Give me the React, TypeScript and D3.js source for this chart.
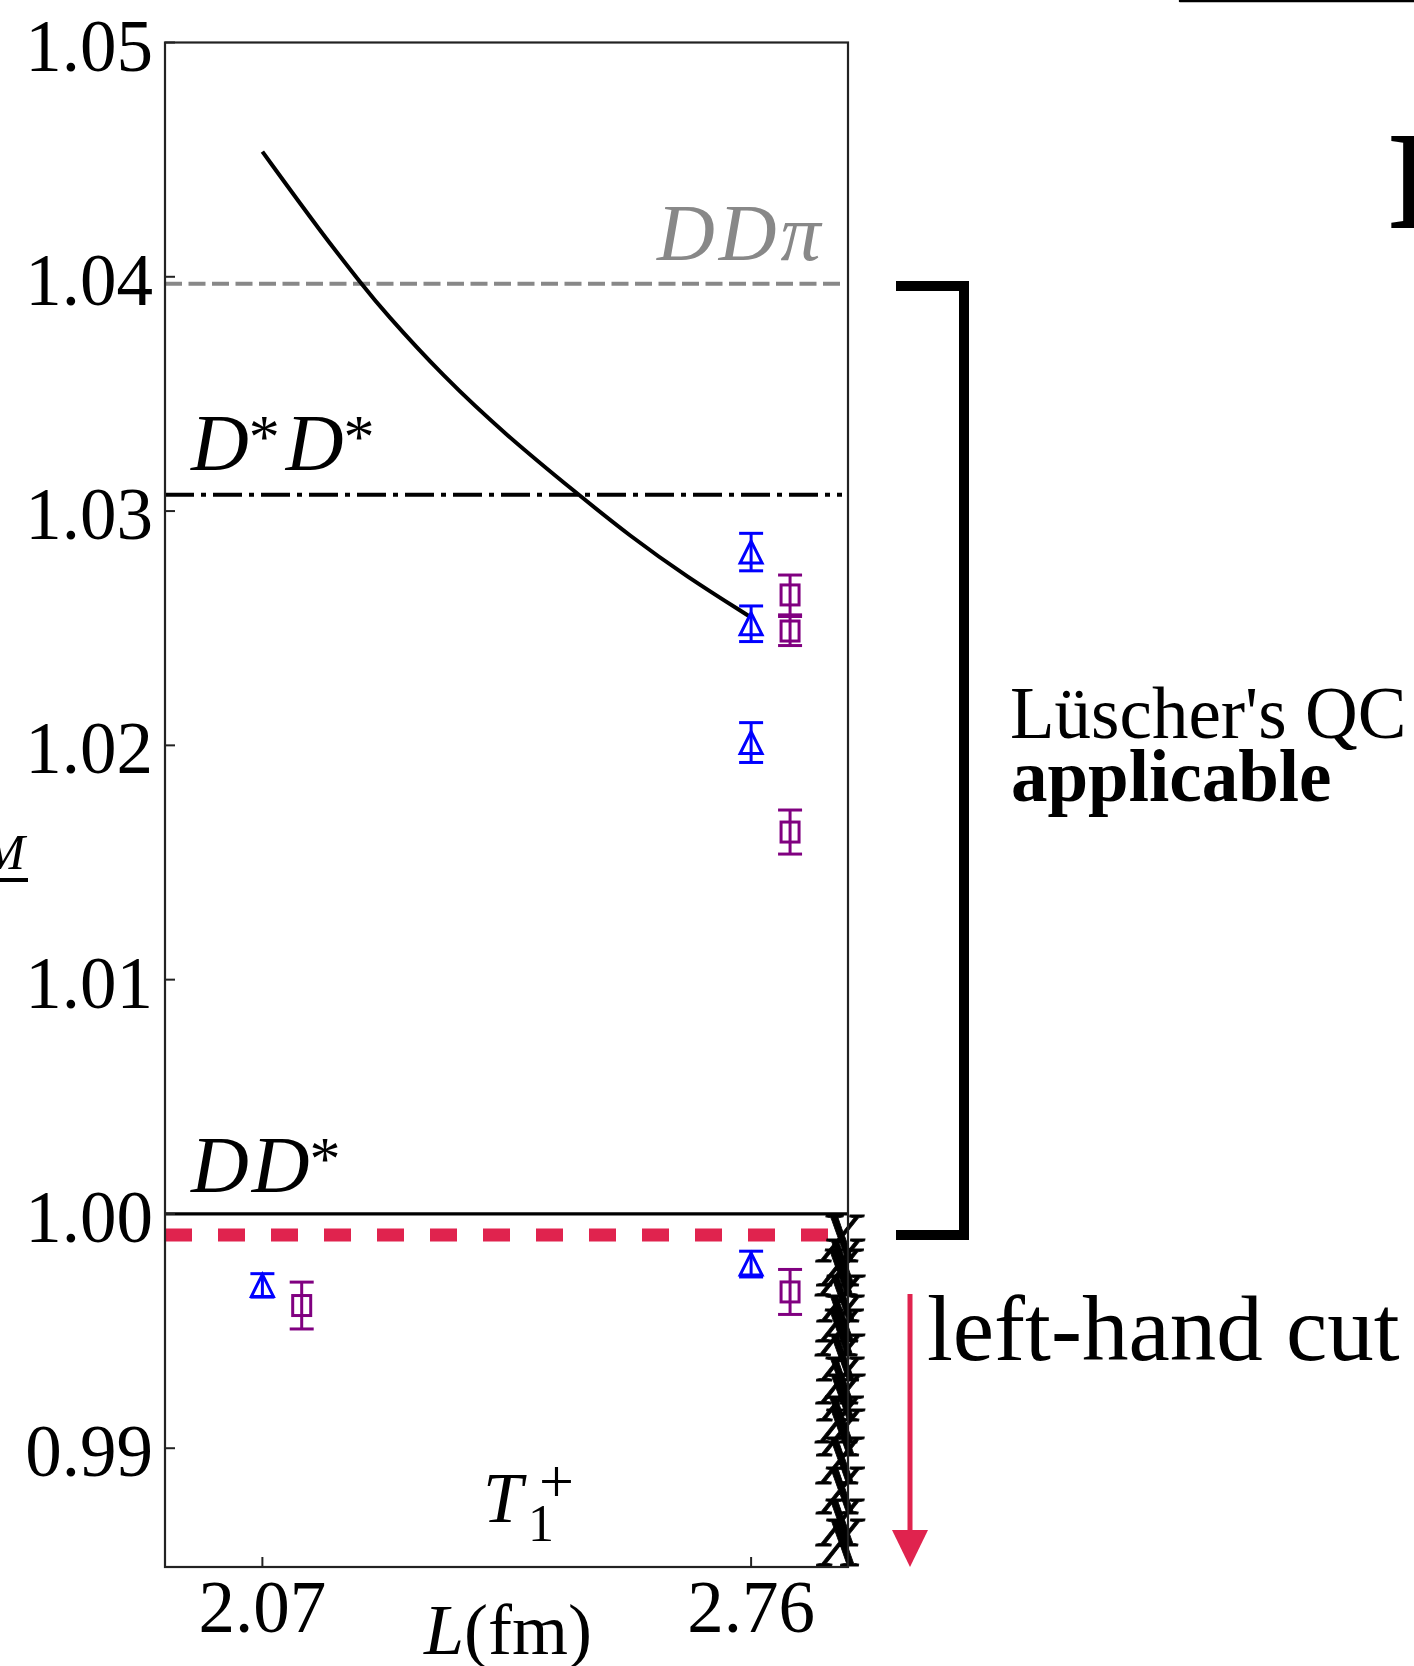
import React from 'react';
import * as d3 from 'd3';

// Axis ticks
const yTicks = [0.99, 1.0, 1.01, 1.02, 1.03, 1.04, 1.05];
const yTickLabels = ['0.99', '1.00', '1.01', '1.02', '1.03', '1.04', '1.05'];
const xTicks = [2.07, 2.76];
const xTickLabels = ['2.07', '2.76'];

// Thresholds (in units of the DD* threshold)
const thresholdDDpi = 1.0397;
const thresholdDstarDstar = 1.0307;
const thresholdDDstar = 1.0;
const leftHandCut = 0.9991;

// Non-interacting D*D* level with finite-volume shift
const curveL = [2.07, 2.1537, 2.2125, 2.2407, 2.3254, 2.4149, 2.5138, 2.589, 2.669, 2.7584];
const curveE = [1.04534, 1.04186, 1.0396, 1.03855, 1.03574, 1.03322, 1.03076, 1.02893, 1.0272, 1.02549];

// Lattice levels, set A (blue triangles)
const blueL = [2.07, 2.76, 2.76, 2.76, 2.76];
const blueE = [0.99695, 0.99786, 1.02012, 1.02519, 1.02825];
const blueErr = [0.0005, 0.00055, 0.00085, 0.00076, 0.0008];

// Lattice levels, set B (purple squares)
const purpleL = [2.1255, 2.815, 2.815, 2.815, 2.815];
const purpleE = [0.99609, 0.99667, 1.0163, 1.02488, 1.02642];
const purpleErr = [0.001, 0.00096, 0.00094, 0.00062, 0.00085];

// Crossed-out levels below the left-hand cut
const crossL = [2.8855, 2.8865, 2.8845, 2.887, 2.8855, 2.8845, 2.8865, 2.8855, 2.887, 2.8845, 2.8865, 2.8855, 2.886, 2.8855, 2.8865];
const crossE = [0.99895, 0.99789, 0.99746, 0.99639, 0.99553, 0.9949, 0.99383, 0.99289, 0.99213, 0.99119, 0.99063, 0.98944, 0.98816, 0.98679, 0.98594];

const W = 1414;
const H = 1666;
const serif = '"Liberation Serif", "DejaVu Serif", serif';

export default function App() {
  const x = d3.scaleLinear().domain([1.9325, 2.8968]).range([165, 848]);
  const y = d3.scaleLinear().domain([0.98493, 1.05]).range([1567, 42.5]);
  const [x0, x1] = x.range();
  const [yb, yt] = y.range();

  const curve = d3
    .line<number>()
    .x((_, i) => x(curveL[i]))
    .y((d) => y(d))
    .curve(d3.curveBasis)(curveE) as string;

  const blue = '#0000ff';
  const purple = '#800080';
  const red = '#e0234e';

  const errBar = (cx: number, e: number, err: number, color: string, key: string) => (
    <g key={key} stroke={color} strokeWidth={3} fill="none">
      <line x1={cx} x2={cx} y1={y(e - err)} y2={y(e + err)} />
      <line x1={cx - 12} x2={cx + 12} y1={y(e - err)} y2={y(e - err)} />
      <line x1={cx - 12} x2={cx + 12} y1={y(e + err)} y2={y(e + err)} />
    </g>
  );

  return (
    <svg
      width={W}
      height={H}
      viewBox={`0 0 ${W} ${H}`}
      style={{ position: 'absolute', left: 0, top: 0, background: '#fff' }}
      fontFamily={serif}
    >
      <rect width={W} height={H} fill="#fff" />

      {/* threshold lines */}
      <line x1={x0} x2={x1 - 6} y1={y(thresholdDDpi)} y2={y(thresholdDDpi)} stroke="#888" strokeWidth={4} strokeDasharray="17 6.5" />
      <line x1={x0} x2={x1 - 6} y1={y(thresholdDstarDstar)} y2={y(thresholdDstarDstar)} stroke="#000" strokeWidth={4} strokeDasharray="29 7 5 7" />
      <line x1={x0} x2={x1} y1={y(thresholdDDstar)} y2={y(thresholdDDstar)} stroke="#000" strokeWidth={3.2} />
      <line x1={x0} x2={x1} y1={y(leftHandCut)} y2={y(leftHandCut)} stroke={red} strokeWidth={13} strokeDasharray="27 26" />

      {/* curve */}
      <path d={curve} fill="none" stroke="#000" strokeWidth={4} />

      {/* set A */}
      {blueL.map((l, i) => errBar(x(l), blueE[i], blueErr[i], blue, `be${i}`))}
      {blueL.map((l, i) => (
        <path
          key={`bm${i}`}
          transform={`translate(${x(l)},${y(blueE[i])})`}
          d="M0,-11 L-11,11 L11,11 Z"
          fill="none"
          stroke={blue}
          strokeWidth={3}
        />
      ))}

      {/* set B */}
      {purpleL.map((l, i) => errBar(x(l), purpleE[i], purpleErr[i], purple, `pe${i}`))}
      {purpleL.map((l, i) => (
        <rect
          key={`pm${i}`}
          x={x(l) - 9}
          y={y(purpleE[i]) - 10}
          width={18}
          height={20}
          fill="none"
          stroke={purple}
          strokeWidth={3}
        />
      ))}

      {/* crossed levels */}
      {crossL.map((l, i) => (
        <text
          key={`cx${i}`}
          x={x(l)}
          y={y(crossE[i]) + 23}
          fontSize={72}
          fontStyle="italic"
          textAnchor="middle"
          fill="#000"
          stroke="#000"
          strokeWidth={0.8}
        >
          X
        </text>
      ))}

      {/* frame */}
      <rect x={x0} y={yt} width={x1 - x0} height={yb - yt} fill="none" stroke="#222" strokeWidth={2.2} />

      {/* y ticks */}
      {yTicks.map((t, i) => (
        <g key={`yt${i}`}>
          <line x1={x0} x2={x0 + 10} y1={y(t)} y2={y(t)} stroke="#222" strokeWidth={2} />
          <text x={153} y={y(t) + 28} fontSize={73} textAnchor="end" fill="#000">
            {yTickLabels[i]}
          </text>
        </g>
      ))}

      {/* x ticks */}
      {xTicks.map((t, i) => (
        <g key={`xt${i}`}>
          <line x1={x(t)} x2={x(t)} y1={yb} y2={yb - 10} stroke="#222" strokeWidth={2} />
          <text x={x(t)} y={1632} fontSize={73} textAnchor="middle" fill="#000">
            {xTickLabels[i]}
          </text>
        </g>
      ))}

      <text x={508} y={1654} fontSize={72} textAnchor="middle" fill="#000">
        <tspan fontStyle="italic">L</tspan>(fm)
      </text>

      {/* threshold labels */}
      <text x={657} y={260} fontSize={80} fontStyle="italic" fill="#888" letterSpacing={4}>
        DDπ
      </text>
      <text x={191} y={470} fontSize={80} fill="#000">
        <tspan fontStyle="italic">D</tspan>
        <tspan fontSize={62} dy={-13}>*</tspan>
        <tspan fontStyle="italic" dx={6} dy={13}>D</tspan>
        <tspan fontSize={62} dy={-13}>*</tspan>
      </text>
      <text x={191} y={1192} fontSize={80} fill="#000">
        <tspan fontStyle="italic">D</tspan>
        <tspan fontStyle="italic" dx={3}>D</tspan>
        <tspan fontSize={62} dy={-13}>*</tspan>
      </text>

      {/* irrep label */}
      <text x={483} y={1522} fontSize={71} fontStyle="italic" fill="#000">T</text>
      <text x={528} y={1541} fontSize={52} fill="#000">1</text>
      <text x={539} y={1502} fontSize={62} fill="#000">+</text>

      {/* bracket and annotations */}
      <path d="M896,286 H964 V1235 H896" fill="none" stroke="#000" strokeWidth={10} strokeLinejoin="miter" />
      <text x={1010} y={738} fontSize={73} fill="#000">Lüscher's QC</text>
      <text x={1011} y={801} fontSize={73} fontWeight="bold" fill="#000">applicable</text>

      <line x1={910} x2={910} y1={1294} y2={1535} stroke={red} strokeWidth={5} />
      <path d="M892,1530 L928,1530 L910,1567 Z" fill={red} />
      <text x={927} y={1360} fontSize={93} fill="#000">left-hand cut</text>

      {/* neighbouring panel fragments */}
      <text x={25} y={869} fontSize={50} fontStyle="italic" textAnchor="end" fill="#000">M</text>
      <line x1={0} x2={28} y1={880} y2={880} stroke="#000" strokeWidth={4} />
      <line x1={1180} x2={1414} y1={1} y2={1} stroke="#000" strokeWidth={2.5} strokeLinecap="round" />
      <text x={1389} y={228} fontSize={140} fontWeight="bold" fill="#000">B</text>
    </svg>
  );
}
